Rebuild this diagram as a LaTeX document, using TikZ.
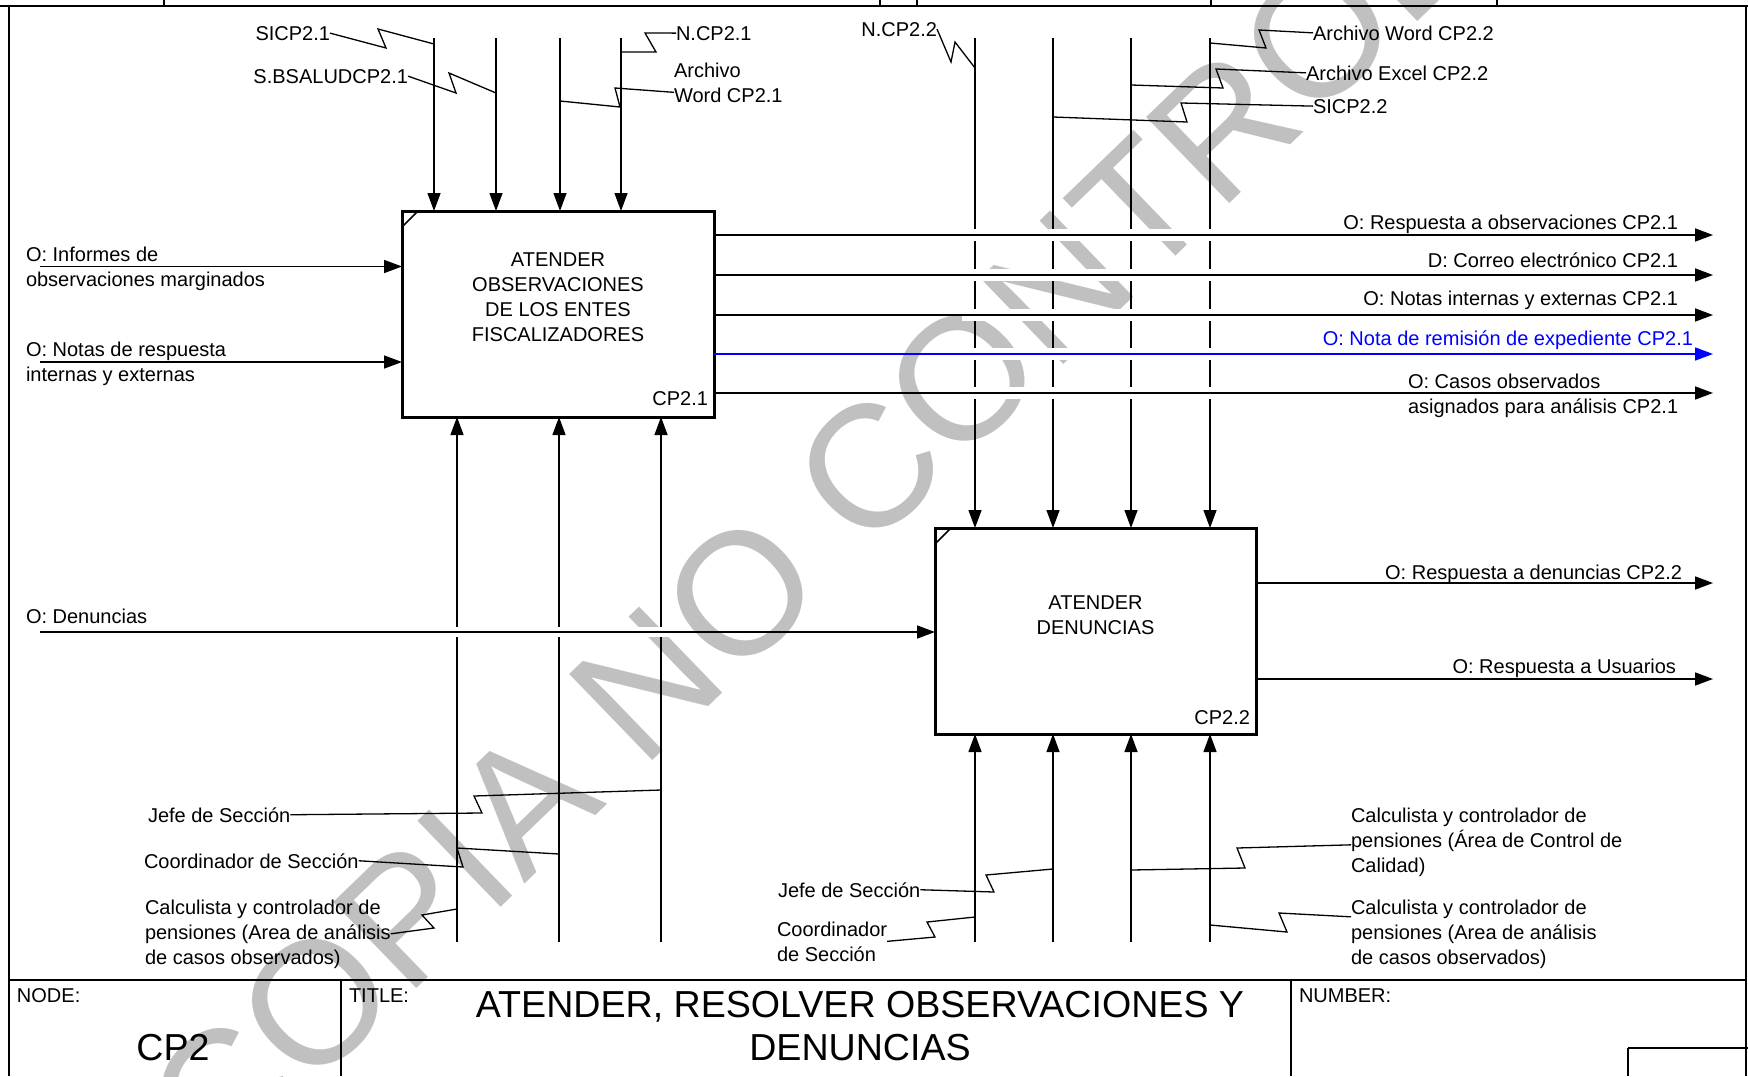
\documentclass[tikz,border=0pt]{standalone}
\usepackage{fontspec}
\setmainfont{Liberation Sans}
\usetikzlibrary{arrows.meta}
\definecolor{idefblue}{RGB}{0,0,255}
\definecolor{wmgray}{RGB}{192,192,192}
\begin{document}
\begin{tikzpicture}[x=0.5pt,y=-0.5pt,
  every node/.style={inner sep=0pt, outer sep=0pt},
  lbl/.style={font=\fontsize{10}{12.5}\selectfont, align=left},
  bigtxt/.style={font=\fontsize{18.8}{21.5}\selectfont, align=center},
  actbox/.style={draw, line width=1.5pt, rectangle},
  arr/.style={line width=0.8pt, -{Triangle[length=9pt,width=6.5pt]}},
  varr/.style={line width=0.65pt, -{Triangle[length=9pt,width=6.5pt]}},
  zig/.style={line width=0.65pt},
  gapline/.style={draw=white, line width=6pt},
  framel/.style={line width=0.75pt}
]
\useasboundingbox (0,0) rectangle (1748,1076);

% watermark
\begin{scope}
\clip (0,0) rectangle (1748,1076);
\node[font=\fontsize{87}{87}\selectfont, text=wmgray, rotate=44] (wmk) at (935,405) {COPIA NO CONTROLADA};
\end{scope}

% frame
\draw[framel] (0,6) -- (1748,6);
\foreach \x in {164,880,917,1211,1497} \draw[framel] (\x,0) -- (\x,6);
\draw[framel] (9,6) -- (9,1076);
\draw[framel] (1746,6) -- (1746,1076);
\draw[line width=1pt] (9,980) -- (1746,980);
\draw[framel] (341,980) -- (341,1076);
\draw[framel] (1291,980) -- (1291,1076);
\draw[framel] (1628,1076) -- (1628,1048);
\draw[line width=1pt] (1628,1048) -- (1748,1048);

% activity boxes
\node[actbox, minimum width=156pt, minimum height=103pt] (A1) at (558,314) {};
\node[actbox, minimum width=160.5pt, minimum height=103pt] (A2) at (1095.5,631) {};
\draw[line width=0.8pt] ([yshift=-8pt]A1.north west) -- ([xshift=8pt]A1.north west);
\draw[line width=0.8pt] ([yshift=-8pt]A2.north west) -- ([xshift=8pt]A2.north west);
\node[lbl, align=center] (A1t) at (558,297) {ATENDER\\OBSERVACIONES\\DE LOS ENTES\\FISCALIZADORES};
\node[lbl, align=center] (A2t) at (1095.5,615) {ATENDER\\DENUNCIAS};
\node[lbl, anchor=base east] (A1n) at (708,405) {CP2.1};
\node[lbl, anchor=base east] (A2n) at (1250,724) {CP2.2};

% controls box 1
\foreach \x/\n in {434/c11,496/c12,560/c13,621/c14} {
  \coordinate (\n) at (\x,38);
  \draw[varr] (\n) -- (\n |- A1.north);
}
% controls box 2
\foreach \x/\n in {975/c21,1053/c22,1131/c23,1210/c24} {
  \coordinate (\n) at (\x,38);
  \draw[varr] (\n) -- (\n |- A2.north);
}
% mechanisms box 1
\foreach \x/\n in {457/m11,559/m12,661/m13} {
  \coordinate (\n) at (\x,942);
  \draw[varr] (\n) -- (\n |- A1.south);
}
% mechanisms box 2
\foreach \x/\n in {975/m21,1053/m22,1131/m23,1210/m24} {
  \coordinate (\n) at (\x,942);
  \draw[varr] (\n) -- (\n |- A2.south);
}

% crossing gaps
\foreach \y in {235,275,315,354,393} \draw[gapline] (962,\y) -- (1224,\y);
\draw[draw=white, line width=5pt] (445,632) -- (675,632);

% inputs
\coordinate (i1) at (40,266.5);
\coordinate (i2) at (40,362);
\coordinate (i3) at (40,632);
\draw[arr] (i1) -- (i1 -| A1.west);
\draw[arr] (i2) -- (i2 -| A1.west);
\draw[arr] (i3) -- (i3 -| A2.west);

% outputs box 1
\coordinate (o11) at (1713,235);
\coordinate (o12) at (1713,275);
\coordinate (o13) at (1713,315);
\coordinate (o14) at (1713,354);
\coordinate (o15) at (1713,393);
\draw[arr] (o11 -| A1.east) -- (o11);
\draw[arr] (o12 -| A1.east) -- (o12);
\draw[arr] (o13 -| A1.east) -- (o13);
\draw[arr, draw=idefblue] (o14 -| A1.east) -- (o14);
\draw[arr] (o15 -| A1.east) -- (o15);
% outputs box 2
\coordinate (o21) at (1713,583);
\coordinate (o22) at (1713,679);
\draw[arr] (o21 -| A2.east) -- (o21);
\draw[arr] (o22 -| A2.east) -- (o22);

% labels top (multi-line nodes: base = last line)
\node[lbl, anchor=base east] (lSI1) at (330,40) {SICP2.1};
\node[lbl, anchor=base east] (lSB1) at (408,83) {S.BSALUDCP2.1};
\node[lbl, anchor=base west] (lN1) at (676,40) {N.CP2.1};
\node[lbl, anchor=base west] (lAW1) at (674,102) {Archivo\\Word CP2.1};
\node[lbl, anchor=base east] (lN2) at (937,36) {N.CP2.2};
\node[lbl, anchor=base west] (lAW2) at (1313,40) {Archivo Word CP2.2};
\node[lbl, anchor=base west] (lAE2) at (1306,80) {Archivo Excel CP2.2};
\node[lbl, anchor=base west] (lSI2) at (1313,113) {SICP2.2};

% junctions
\coordinate (j1) at (434,44);
\coordinate (j2) at (496,93);
\coordinate (j3) at (621,52);
\coordinate (j4) at (560,101);
\coordinate (j5) at (975,68);
\coordinate (j6) at (1210,43);
\coordinate (j7) at (1131,85);
\coordinate (j8) at (1053,117);
\coordinate (j9) at (661,790);
\coordinate (j10) at (559,854);
\coordinate (j11) at (457,909);
\coordinate (j12) at (1053,869);
\coordinate (j13) at (975,917);
\coordinate (j14) at (1131,870);
\coordinate (j15) at (1210,925);

\draw[zig] (lSI1.east) -- (386,48) -- (378,29) -- (j1);
\draw[zig] (lSB1.east) -- (456,93) -- (449,73) -- (j2);
\draw[zig] (j3) -- (656,52) -- (645,33) -- (lN1.west);
\draw[zig] (j4) -- (620,107) -- (615,88) -- ([yshift=-5pt]lAW1.west);
\draw[zig] (lN2.east) -- (951,62) -- (955,42) -- (j5);
\draw[zig] (j6) -- (1266,48) -- (1259,30) -- (lAW2.west);
\draw[zig] (j7) -- (1223,88) -- (1216,69) -- (lAE2.west);
\draw[zig] (j8) -- (1187,122) -- (1181,103) -- (lSI2.west);

% output labels
\node[lbl, anchor=base east] (lo11) at (1678,229) {O: Respuesta a observaciones CP2.1};
\node[lbl, anchor=base east] (lo12) at (1678,267) {D: Correo electrónico CP2.1};
\node[lbl, anchor=base east] (lo13) at (1678,305) {O: Notas internas y externas CP2.1};
\node[lbl, anchor=base east, text=idefblue] (lo14) at (1693,345) {O: Nota de remisión de expediente CP2.1};
\node[lbl, anchor=base west] (lo15) at (1408,413) {O: Casos observados\\asignados para análisis CP2.1};
\node[lbl, anchor=base east] (lo21) at (1682,579) {O: Respuesta a denuncias CP2.2};
\node[lbl, anchor=base east] (lo22) at (1676,673) {O: Respuesta a Usuarios};

% input labels
\node[lbl, anchor=base west] (li1) at (26,286) {O: Informes de\\observaciones marginados};
\node[lbl, anchor=base west] (li2) at (26,381) {O: Notas de respuesta\\internas y externas};
\node[lbl, anchor=base west] (li3) at (26,623) {O: Denuncias};

% mechanism labels
\node[lbl, anchor=base west] (lm1) at (148,822) {Jefe de Sección};
\node[lbl, anchor=base west] (lm2) at (144,868) {Coordinador de Sección};
\node[lbl, anchor=base west] (lm3) at (145,964) {Calculista y controlador de\\pensiones (Area de análisis\\de casos observados)};
\node[lbl, anchor=base west] (lm4) at (778,897) {Jefe de Sección};
\node[lbl, anchor=base west] (lm5) at (777,961) {Coordinador\\de Sección};
\node[lbl, anchor=base west] (lm6) at (1351,872) {Calculista y controlador de\\pensiones (Área de Control de\\Calidad)};
\node[lbl, anchor=base west] (lm7) at (1351,964) {Calculista y controlador de\\pensiones (Area de análisis\\de casos observados)};

\draw[zig] (lm1.east) -- (482,813) -- (474,796) -- (j9);
\draw[zig] (lm2.east) -- (463,867) -- (457,848) -- (j10);
\draw[zig] (lm3.east) -- (434,928) -- (422,915) -- (j11);
\draw[zig] (lm4.east) -- (994,892) -- (986,875) -- (j12);
\draw[zig] (lm5.east) -- (935,937) -- (927,922) -- (j13);
\draw[zig] (j14) -- (1245,868) -- (1237,848) -- ([yshift=-1.5pt]lm6.west);
\draw[zig] (j15) -- (1287,932) -- (1279,913) -- ([yshift=8.5pt]lm7.west);

% title block
\node[lbl, anchor=base west] (tNode) at (17,1002) {NODE:};
\node[lbl, anchor=base west] (tTitle) at (349,1002) {TITLE:};
\node[lbl, anchor=base west] (tNum) at (1299,1002) {NUMBER:};
\node[bigtxt, anchor=base] (tCP) at (173,1060) {CP2};
\node[bigtxt, anchor=base] (tT) at (860,1060) {ATENDER, RESOLVER OBSERVACIONES Y\\DENUNCIAS};
\end{tikzpicture}
\end{document}
